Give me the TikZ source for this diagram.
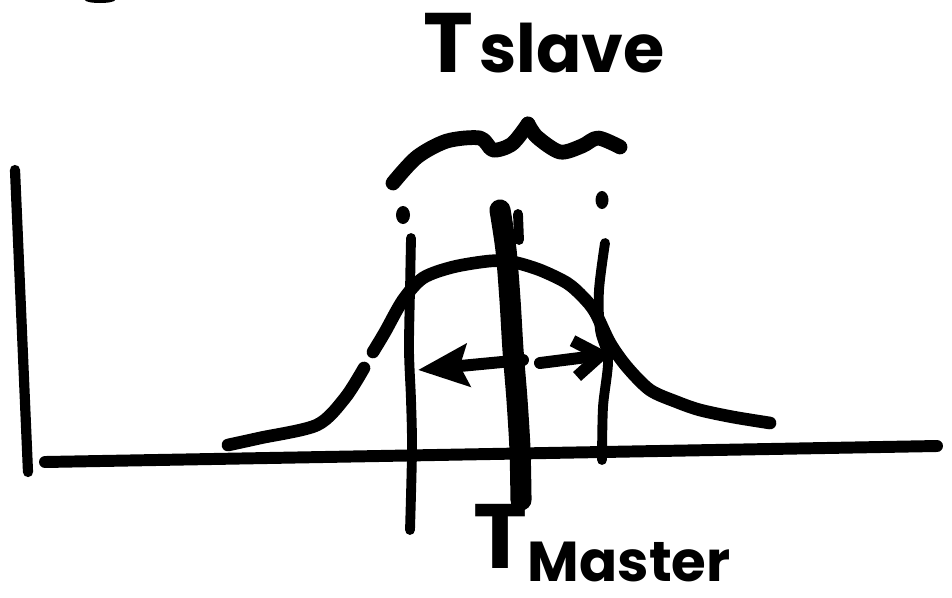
\documentclass[tikz,border=0pt]{standalone}
\usepackage{fontspec}
\newfontfamily\sketchfont{Poppins}
\usetikzlibrary{arrows.meta}

\begin{document}
\begin{tikzpicture}[
      x=0.01cm, y=-0.01cm,
      marker/.style={line width=3.4pt, line cap=round, line join=round},
      thinpen/.style={marker, line width=2.8pt},
      fatpen/.style={marker, line width=6pt},
      sketchtext/.style={font=\sketchfont\bfseries, inner sep=0pt},
    ]
    \useasboundingbox (0,0) rectangle (952,597);
    % stray mark at the top edge
    \fill (100,0) ellipse [x radius=0.15cm, y radius=0.03cm];
    % axes
    \coordinate (ytop) at (15,170);
    \coordinate (ybot) at (28,472);
    \coordinate (xleft) at (45,462);
    \coordinate (xright) at (937,446);
    \draw[marker, line width=2.9pt] (ytop) -- (ybot);
    \draw[marker, line width=3.4pt] (xleft) -- (xright);
    % bell curve
    \draw[marker, line width=3.6pt] plot[smooth] coordinates {(228,445) (260,438) (317,425) (345,398) (364,368)};
    \draw[marker, line width=3.6pt] plot[smooth] coordinates {(373,352) (385,332) (403,300) (423,278) (453,267)
      (490,261) (513,262) (540,270) (567,283) (583,297) (595,312) (610,343) (627,367) (650,390)
      (677,402) (700,410) (733,417) (770,423)};
    % brace
    \draw[marker, line width=4.2pt] plot[smooth] coordinates {(393,183) (417,157) (447,141) (480,138) (493,150) (512,144) (528,124)};
    \draw[marker, line width=4.2pt] plot[smooth] coordinates {(528,124) (537,137) (560,152) (582,146) (598,138) (620,147)};
    % vertical marks
    \fill (403,215) ellipse [x radius=0.07cm, y radius=0.09cm];
    \fill (602,200) ellipse [x radius=0.065cm, y radius=0.09cm];
    \draw[thinpen] plot[smooth] coordinates {(411,238) (410,290) (409,350) (411,400) (412,450) (410,530)};
    \draw[fatpen] plot[smooth] coordinates {(500,210) (506,250) (510,300) (513,350) (517,400) (520,450) (521,500)};
    \draw[thinpen] (518,214) -- (519,240);
    \draw[thinpen] plot[smooth] coordinates {(605,243) (599,290) (600,330) (608,360) (603,407) (602,460)};
    % spread arrows
    \coordinate (midl) at (523,360);
    \coordinate (lefttip) at (418,370);
    \coordinate (midr) at (540,363);
    \coordinate (righttip) at (611,354);
    \draw[marker, -{Stealth[length=5mm, width=4.2mm, inset=0.8mm]}] (midl) -- (lefttip);
    \draw[marker, -{Straight Barb[length=2.6mm, width=3.6mm]}] (midr) -- (righttip);
    % labels
    \node[sketchtext, anchor=base west] (tslave) at (423,72)
      {{\fontsize{24}{24}\selectfont T}\,{\fontsize{19}{19}\selectfont slave}};
    \node[sketchtext, anchor=base west] (tmaster) at (473,568)
      {{\fontsize{26}{26}\selectfont T}\raisebox{-0.13cm}{\fontsize{16}{16}\selectfont Master}};
  \end{tikzpicture}
\end{document}
